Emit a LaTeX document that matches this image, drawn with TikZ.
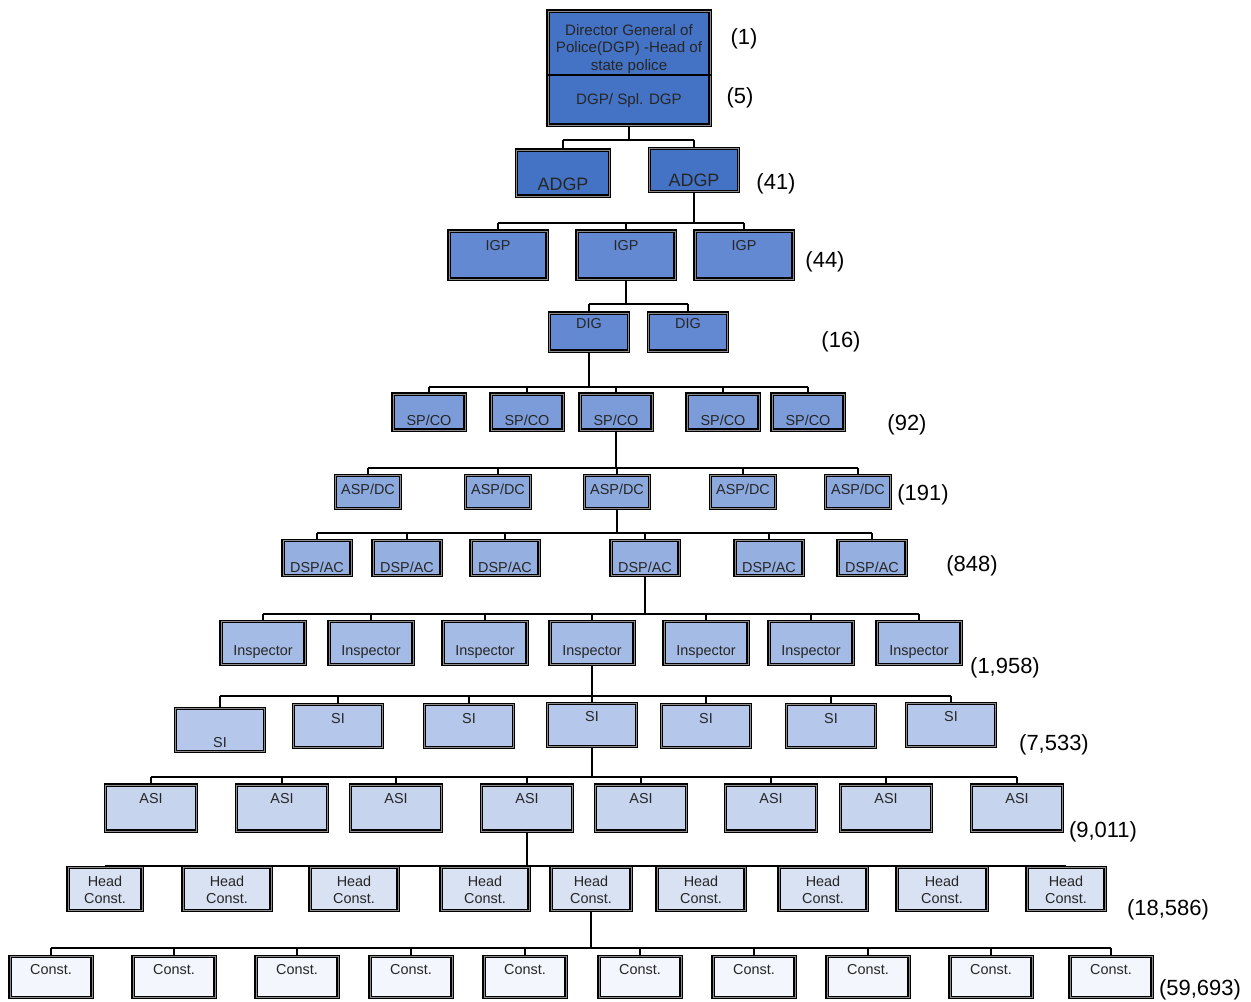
\documentclass[tikz,border=0pt]{standalone}
\usepackage{fontspec}
\setmainfont{Liberation Sans}
\definecolor{lvdgp}{HTML}{4472C4}
\definecolor{lvigp}{HTML}{6389D2}
\definecolor{lvsp}{HTML}{7C9CD9}
\definecolor{lvasp}{HTML}{8CA9DD}
\definecolor{lvdsp}{HTML}{95B0E0}
\definecolor{lvins}{HTML}{A4BBE5}
\definecolor{lvsi}{HTML}{B5C7EA}
\definecolor{lvasi}{HTML}{C6D4EE}
\definecolor{lvhc}{HTML}{D9E2F3}
\definecolor{lvcon}{HTML}{F3F6FC}
\tikzset{
  orgline/.style={line width=0.8pt},
  rankbox/.style={draw, line width=0.65pt, double=black!45, double distance=0.45pt, inner sep=0pt},
  boxtxt/.style={font=\fontsize{8.2}{9.6}\selectfont, text=black!85, inner sep=0pt, align=center},
  cnttxt/.style={font=\fontsize{12.5}{14}\selectfont, inner sep=0pt},
  dgpbox/.style={rankbox, fill=lvdgp, minimum width=3.24cm},
  adgpbox/.style={rankbox, fill=lvdgp, minimum width=1.86cm, minimum height=0.92cm},
  igpbox/.style={rankbox, fill=lvigp, minimum width=1.96cm, minimum height=0.96cm},
  digbox/.style={rankbox, fill=lvigp, minimum width=1.58cm, minimum height=0.76cm},
  spbox/.style={rankbox, fill=lvsp, minimum width=1.44cm, minimum height=0.72cm},
  aspbox/.style={rankbox, fill=lvasp, minimum width=1.30cm, minimum height=0.66cm},
  dspbox/.style={rankbox, fill=lvdsp, minimum width=1.36cm, minimum height=0.70cm},
  insbox/.style={rankbox, fill=lvins, minimum width=1.68cm, minimum height=0.86cm},
  sibox/.style={rankbox, fill=lvsi, minimum width=1.78cm, minimum height=0.86cm},
  asibox/.style={rankbox, fill=lvasi, minimum width=1.82cm, minimum height=0.92cm},
  hcbox/.style={rankbox, fill=lvhc, minimum height=0.86cm},
  conbox/.style={rankbox, fill=lvcon, minimum width=1.64cm, minimum height=0.82cm}
}
\begin{document}
\begin{tikzpicture}[x=0.02cm, y=-0.02cm]
  \useasboundingbox (0,0) rectangle (1251,1001);

  % head of the state police, one box split in two
  \node[dgpbox, minimum height=2.28cm, label={[boxtxt, font=\fontsize{8.6}{10}\selectfont, yshift=0.38cm]center:Director General of\\Police(DGP) -Head of\\state police}] (dgp) at (629,68) {};
  \node[boxtxt, font=\fontsize{8.6}{10}\selectfont] (sdgp) at (629,101) {DGP/ Spl. DGP};
  \coordinate (split) at (629,75);
  \draw[line width=1pt] (dgp.west |- split) -- (dgp.east |- split);

  % ranks, one row each
  \node[adgpbox, label={[boxtxt, font=\fontsize{10.2}{12}\selectfont, yshift=-0.22cm]center:ADGP}] (adgp1) at (563,173) {};
  \node[adgpbox, minimum width=1.78cm, minimum height=0.86cm, label={[boxtxt, font=\fontsize{10.2}{12}\selectfont, yshift=-0.2cm]center:ADGP}] (adgp2) at (694,170) {};
  \foreach \n/\cx in {1/498,2/626,3/744}
    \node[igpbox, label={[boxtxt, yshift=0.18cm]center:IGP}] (igp\n) at (\cx,255) {};
  \foreach \n/\cx in {1/589,2/688}
    \node[digbox, label={[boxtxt, yshift=0.16cm]center:DIG}] (dig\n) at (\cx,332) {};
  \foreach \n/\cx in {1/429,2/527,3/616,4/723,5/808}
    \node[spbox, label={[boxtxt, yshift=-0.16cm]center:SP/CO}] (sp\n) at (\cx,412) {};
  \foreach \n/\cx in {1/368,2/498,3/617,4/743,5/858}
    \node[aspbox, label={[boxtxt, yshift=0.06cm]center:ASP/DC}] (asp\n) at (\cx,492) {};
  \foreach \n/\cx in {1/317,2/407,3/505,4/645,5/769,6/872}
    \node[dspbox, label={[boxtxt, yshift=-0.18cm]center:DSP/AC}] (dsp\n) at (\cx,558) {};
  \foreach \n/\cx in {1/263,2/371,3/485,4/592,5/706,6/811,7/919}
    \node[insbox, label={[boxtxt, yshift=-0.18cm]center:Inspector}] (ins\n) at (\cx,643) {};
  \foreach \n/\cx/\cy/\dy in {1/220/730/-0.26,2/338/726/0.14,3/469/726/0.14,4/592/725/0.16,5/706/726/0.14,6/831/726/0.14,7/951/725/0.16}
    \node[sibox, label={[boxtxt, yshift=\dy cm]center:SI}] (si\n) at (\cx,\cy) {};
  \foreach \n/\cx in {1/151,2/282,3/396,4/527,5/641,6/771,7/886,8/1017}
    \node[asibox, label={[boxtxt, yshift=0.18cm]center:ASI}] (asi\n) at (\cx,808) {};
  \foreach \n/\cx/\w in {1/105/1.48,2/227/1.76,3/354/1.76,4/485/1.76,5/591/1.60,6/701/1.76,7/823/1.76,8/942/1.80,9/1066/1.56}
    \node[hcbox, minimum width=\w cm, label={[boxtxt, yshift=-0.02cm]center:Head\\Const.}] (hc\n) at (\cx,889) {};
  \foreach \n/\cx in {1/51,2/174,3/297,4/411,5/525,6/640,7/754,8/868,9/991,10/1111}
    \node[conbox, label={[boxtxt, yshift=0.14cm]center:Const.}] (con\n) at (\cx,977) {};

  % buses
  \coordinate (busA) at (0,140);
  \coordinate (busB) at (0,223);
  \coordinate (busC) at (0,304);
  \coordinate (busD) at (0,387);
  \coordinate (busE) at (0,468);
  \coordinate (busF) at (0,533);
  \coordinate (busG) at (0,614);
  \coordinate (busH) at (0,696);
  \coordinate (busI) at (0,777);
  \coordinate (busJ) at (0,866);
  \coordinate (busK) at (0,948);

  \draw[orgline] (dgp.south) -- (dgp.south |- busA);
  \draw[orgline] (adgp1.north |- busA) -- (adgp2.north |- busA);
  \foreach \i in {1,2} \draw[orgline] (adgp\i.north) -- (adgp\i.north |- busA);

  \draw[orgline] (adgp2.south) -- (adgp2.south |- busB);
  \draw[orgline] (igp1.north |- busB) -- (igp3.north |- busB);
  \foreach \i in {1,...,3} \draw[orgline] (igp\i.north) -- (igp\i.north |- busB);

  \draw[orgline] (igp2.south) -- (igp2.south |- busC);
  \draw[orgline] (dig1.north |- busC) -- (dig2.north |- busC);
  \foreach \i in {1,2} \draw[orgline] (dig\i.north) -- (dig\i.north |- busC);

  \draw[orgline] (dig1.south) -- (dig1.south |- busD);
  \draw[orgline] (sp1.north |- busD) -- (sp5.north |- busD);
  \foreach \i in {1,...,5} \draw[orgline] (sp\i.north) -- (sp\i.north |- busD);

  \draw[orgline] (sp3.south) -- (sp3.south |- busE);
  \draw[orgline] (asp1.north |- busE) -- (asp5.north |- busE);
  \foreach \i in {1,...,5} \draw[orgline] (asp\i.north) -- (asp\i.north |- busE);

  \draw[orgline] (asp3.south) -- (asp3.south |- busF);
  \draw[orgline] (dsp1.north |- busF) -- (dsp6.north |- busF);
  \foreach \i in {1,...,6} \draw[orgline] (dsp\i.north) -- (dsp\i.north |- busF);

  \draw[orgline] (dsp4.south) -- (dsp4.south |- busG);
  \draw[orgline] (ins1.north |- busG) -- (ins7.north |- busG);
  \foreach \i in {1,...,7} \draw[orgline] (ins\i.north) -- (ins\i.north |- busG);

  \draw[orgline] (ins4.south) -- (ins4.south |- busH);
  \draw[orgline] (si1.north |- busH) -- (si7.north |- busH);
  \foreach \i in {1,...,7} \draw[orgline] (si\i.north) -- (si\i.north |- busH);

  \draw[orgline] (si4.south) -- (si4.south |- busI);
  \draw[orgline] (asi1.north |- busI) -- (asi8.north |- busI);
  \foreach \i in {1,...,8} \draw[orgline] (asi\i.north) -- (asi\i.north |- busI);

  \draw[orgline] (asi4.south) -- (asi4.south |- busJ);
  \draw[orgline] (hc1.north |- busJ) -- (hc9.north |- busJ);
  \foreach \i in {1,...,9} \draw[orgline] (hc\i.north) -- (hc\i.north |- busJ);

  \draw[orgline] (hc5.south) -- (hc5.south |- busK);
  \draw[orgline] (con1.north |- busK) -- (con10.north |- busK);
  \foreach \i in {1,...,10} \draw[orgline] (con\i.north) -- (con\i.north |- busK);

  % strength of each rank
  \node[cnttxt] (cntdgp) at (744,39) {(1)};
  \node[cnttxt] (cntsdgp) at (740,98) {(5)};
  \node[cnttxt] (cntadgp) at (776,184) {(41)};
  \node[cnttxt] (cntigp) at (825,262) {(44)};
  \node[cnttxt] (cntdig) at (841,342) {(16)};
  \node[cnttxt] (cntsp) at (907,425) {(92)};
  \node[cnttxt] (cntasp) at (923,495) {(191)};
  \node[cnttxt] (cntdsp) at (972,566) {(848)};
  \node[cnttxt] (cntins) at (1005,668) {(1,958)};
  \node[cnttxt] (cntsi) at (1054,745) {(7,533)};
  \node[cnttxt] (cntasi) at (1103,832) {(9,011)};
  \node[cnttxt] (cnthc) at (1168,910) {(18,586)};
  \node[cnttxt] (cntcon) at (1200,990) {(59,693)};
\end{tikzpicture}
\end{document}
